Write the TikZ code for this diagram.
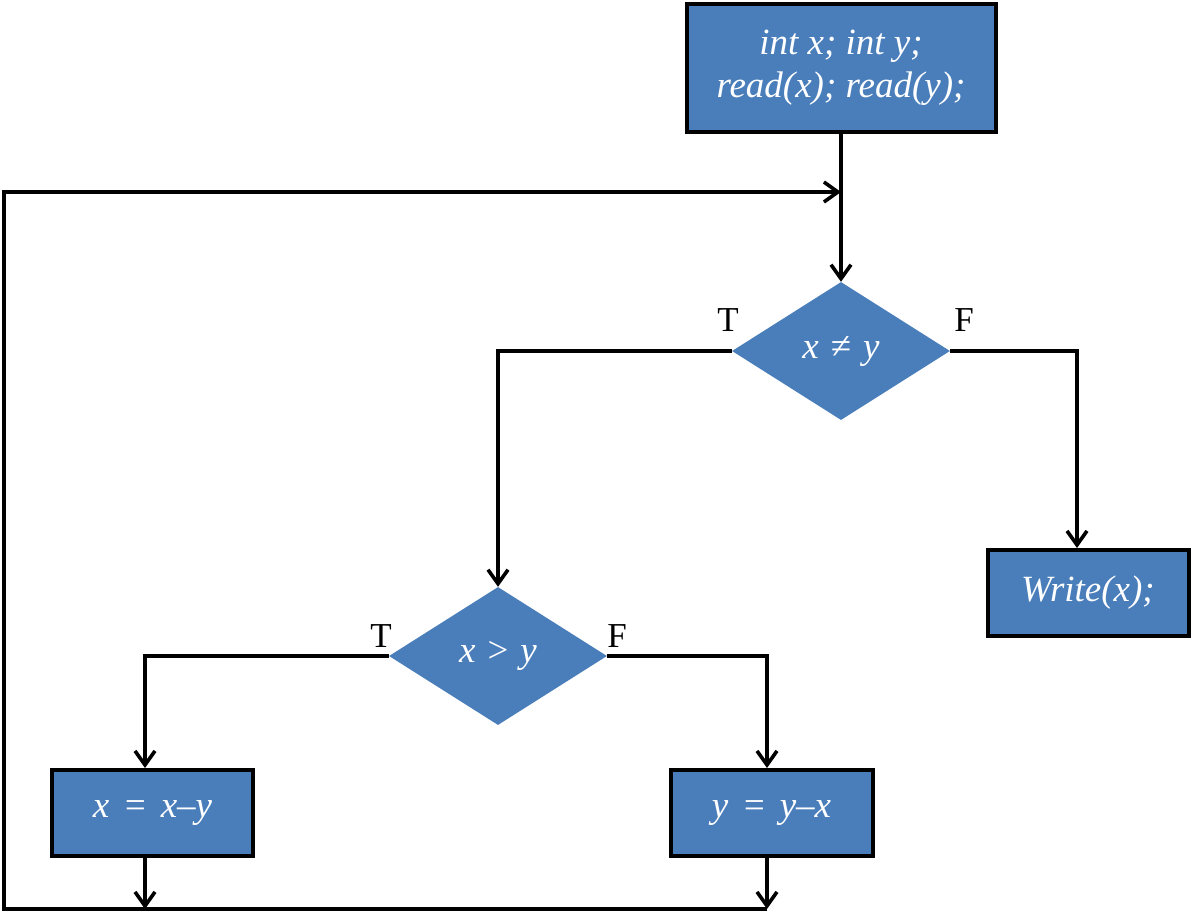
\documentclass[tikz,border=0pt]{standalone}
\usepackage{fontspec}
\setmainfont{Liberation Serif}
\usetikzlibrary{shapes.geometric,arrows.meta}
\definecolor{boxblue}{RGB}{74,126,187}
\begin{document}
\begin{tikzpicture}[x=1pt,y=-1pt,
  proc/.style={draw=black, line width=4pt, fill=boxblue, text=white,
    font=\fontsize{37}{43}\selectfont\itshape, inner sep=0pt, align=center},
  dec/.style={diamond, fill=boxblue, text=white, inner sep=0pt,
    minimum width=218pt, minimum height=138pt,
    font=\fontsize{37}{43}\selectfont\itshape},
  conn/.style={line width=3.6pt, line join=miter},
  arr/.style={conn, -{Straight Barb[length=14pt,width=20pt]}},
  lab/.style={font=\fontsize{35}{40}\selectfont}]
\useasboundingbox (0,0) rectangle (1192,913);

% nodes
\node[proc, minimum width=309pt, minimum height=128pt] (start) at (841,68)
  {int x; int y;\\read(x); read(y);};
\node[dec] (d1) at (841,351) {x\hspace{12pt}{\upshape ≠}\hspace{12pt}y};
\node[dec] (d2) at (498,656) {x\hspace{12pt}{\upshape >}\hspace{12pt}y};
\node[proc, minimum width=201pt, minimum height=86pt] (write) at (1088,593) {Write(x);};
\node[proc, minimum width=201pt, minimum height=86pt] (lbox) at (152.5,813) {x\hspace{4pt} = \hspace{4pt}x–y};
\node[proc, minimum width=202pt, minimum height=86pt] (rbox) at (771.5,813) {y\hspace{4pt} = \hspace{4pt}y–x};

% labels
\node[lab] (t1) at (728,320) {T};
\node[lab] (f1) at (964,320) {F};
\node[lab] (t2) at (381,636) {T};
\node[lab] (f2) at (617,636) {F};

% helper coordinates
\coordinate (wIn) at (1077,548);
\coordinate (lIn) at (145,768);
\coordinate (rIn) at (767,768);
\coordinate (lOut) at (145,858);
\coordinate (rOut) at (767,858);
\coordinate (lEnd) at (145,909);
\coordinate (rEnd) at (767,909);
\coordinate (loopBL) at (4,909);
\coordinate (loopTL) at (4,192);
\coordinate (loopIn) at (841,192);

% connectors
\draw[arr] (start.south) -- (d1.north);
\draw[arr] (d1.west) -| (d2.north);
\draw[arr] (d1.east) -| (wIn);
\draw[arr] (d2.west) -| (lIn);
\draw[arr] (d2.east) -| (rIn);
\draw[arr] (lOut) -- (lEnd);
\draw[arr] (rOut) -- (rEnd);
\draw[arr] (rEnd) -- (loopBL) -- (loopTL) -- (loopIn);
\end{tikzpicture}
\end{document}
